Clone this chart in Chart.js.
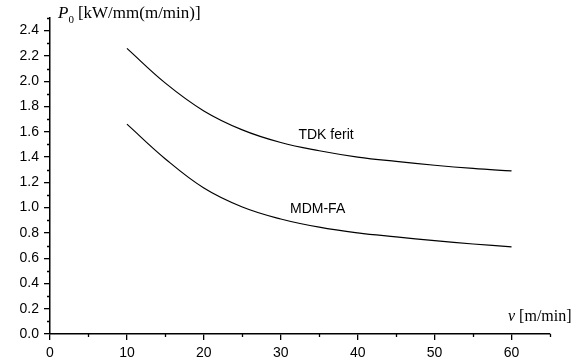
<!DOCTYPE html>
<html>
<head>
<meta charset="utf-8">
<script src="https://cdn.jsdelivr.net/npm/chart.js@4"></script>
<style>
  html, body { margin: 0; padding: 0; background: #fff; }
  #wrap { width: 582px; height: 363px; }
</style>
</head>
<body>
<div id="wrap"><canvas id="chart" width="582" height="363"></canvas></div>
<script>
// speed v [m/min]
const speeds = [10, 15, 20, 25, 30, 35, 40, 45, 50, 55, 60];
// P0 [kW/mm(m/min)]
const tdkFerit = [2.26, 1.985, 1.765, 1.615, 1.515, 1.45, 1.40, 1.365, 1.335, 1.31, 1.29];
const mdmFa = [1.66, 1.385, 1.155, 1.005, 0.91, 0.845, 0.80, 0.768, 0.738, 0.712, 0.69];

const xTicks = [0, 10, 20, 30, 40, 50, 60];
const xMinorTicks = [5, 15, 25, 35, 45, 55, 65];
const yTicks = [0, 0.2, 0.4, 0.6, 0.8, 1.0, 1.2, 1.4, 1.6, 1.8, 2.0, 2.2, 2.4];
const yMinorTicks = [0.1, 0.3, 0.5, 0.7, 0.9, 1.1, 1.3, 1.5, 1.7, 1.9, 2.1, 2.3, 2.5];

// curve names, placed at (v, P0)
const curveLabels = [
    { text: 'TDK ferit', v: 32.3, p: 1.575 },
    { text: 'MDM-FA', v: 31.2, p: 0.99 }
];

const ink = '#000';

const extras = {
    id: 'extras',
    afterDraw(chart) {
        const ctx = chart.ctx;
        const xs = chart.scales.x;
        const ys = chart.scales.y;
        const area = chart.chartArea;
        ctx.save();
        ctx.strokeStyle = ink;
        ctx.lineWidth = 1.3;
        ctx.beginPath();
        yMinorTicks.forEach(v => {
            const py = Math.round(ys.getPixelForValue(v)) + 0.5;
            ctx.moveTo(area.left - 3, py);
            ctx.lineTo(area.left, py);
        });
        xMinorTicks.forEach(v => {
            const px = Math.round(xs.getPixelForValue(v)) + 0.5;
            ctx.moveTo(px, area.bottom);
            ctx.lineTo(px, area.bottom + 3);
        });
        ctx.stroke();

        ctx.fillStyle = ink;
        ctx.textBaseline = 'middle';
        ctx.textAlign = 'left';
        ctx.font = '14px "Liberation Sans", Arial, sans-serif';
        curveLabels.forEach(l => {
            ctx.fillText(l.text, xs.getPixelForValue(l.v), ys.getPixelForValue(l.p));
        });

        // y axis title: P0 [kW/mm(m/min)]
        ctx.textBaseline = 'alphabetic';
        let x = 58;
        ctx.font = 'italic 17px "Liberation Serif", "Times New Roman", serif';
        ctx.fillText('P', x, 18);
        x += ctx.measureText('P').width;
        ctx.font = '11px "Liberation Serif", "Times New Roman", serif';
        ctx.fillText('0', x, 23);
        x += ctx.measureText('0').width + 4;
        ctx.font = '17px "Liberation Serif", "Times New Roman", serif';
        ctx.fillText('[kW/mm(m/min)]', x, 18);

        // x axis title: v [m/min]
        x = 508;
        ctx.font = 'italic 16px "Liberation Serif", "Times New Roman", serif';
        ctx.fillText('v', x, 321);
        x += ctx.measureText('v').width + 4;
        ctx.font = '16px "Liberation Serif", "Times New Roman", serif';
        ctx.fillText('[m/min]', x, 321);
        ctx.restore();
    }
};

const lineStyle = {
    borderColor: ink,
    borderWidth: 1.2,
    pointRadius: 0,
    fill: false,
    tension: 0.4
};

new Chart(document.getElementById('chart'), {
    type: 'line',
    data: {
        datasets: [
            Object.assign({ label: 'TDK ferit', data: speeds.map((v, i) => ({ x: v, y: tdkFerit[i] })) }, lineStyle),
            Object.assign({ label: 'MDM-FA', data: speeds.map((v, i) => ({ x: v, y: mdmFa[i] })) }, lineStyle)
        ]
    },
    options: {
        responsive: false,
        animation: false,
        layout: { padding: { top: 18, right: 32, left: 0, bottom: 0 } },
        plugins: {
            legend: { display: false },
            tooltip: { enabled: false }
        },
        scales: {
            x: {
                type: 'linear',
                min: 0,
                max: 65,
                afterBuildTicks: s => { s.ticks = xTicks.map(v => ({ value: v })); },
                afterFit: s => { s.height = 29; },
                border: { display: true, color: ink, width: 1.5 },
                grid: { drawOnChartArea: false, drawTicks: true, tickLength: 6, color: ink, lineWidth: 1.3 },
                ticks: {
                    padding: 5,
                    maxRotation: 0,
                    color: ink,
                    font: { family: '"Liberation Sans", Arial, sans-serif', size: 14 }
                }
            },
            y: {
                min: 0,
                max: 2.5,
                afterBuildTicks: s => { s.ticks = yTicks.map(v => ({ value: v })); },
                afterFit: s => { s.width = 50; },
                border: { display: true, color: ink, width: 1.5 },
                grid: { drawOnChartArea: false, drawTicks: true, tickLength: 6, color: ink, lineWidth: 1.3 },
                ticks: {
                    padding: 5,
                    color: ink,
                    font: { family: '"Liberation Sans", Arial, sans-serif', size: 14 },
                    callback: v => v.toFixed(1)
                }
            }
        }
    },
    plugins: [extras]
});
</script>
</body>
</html>
